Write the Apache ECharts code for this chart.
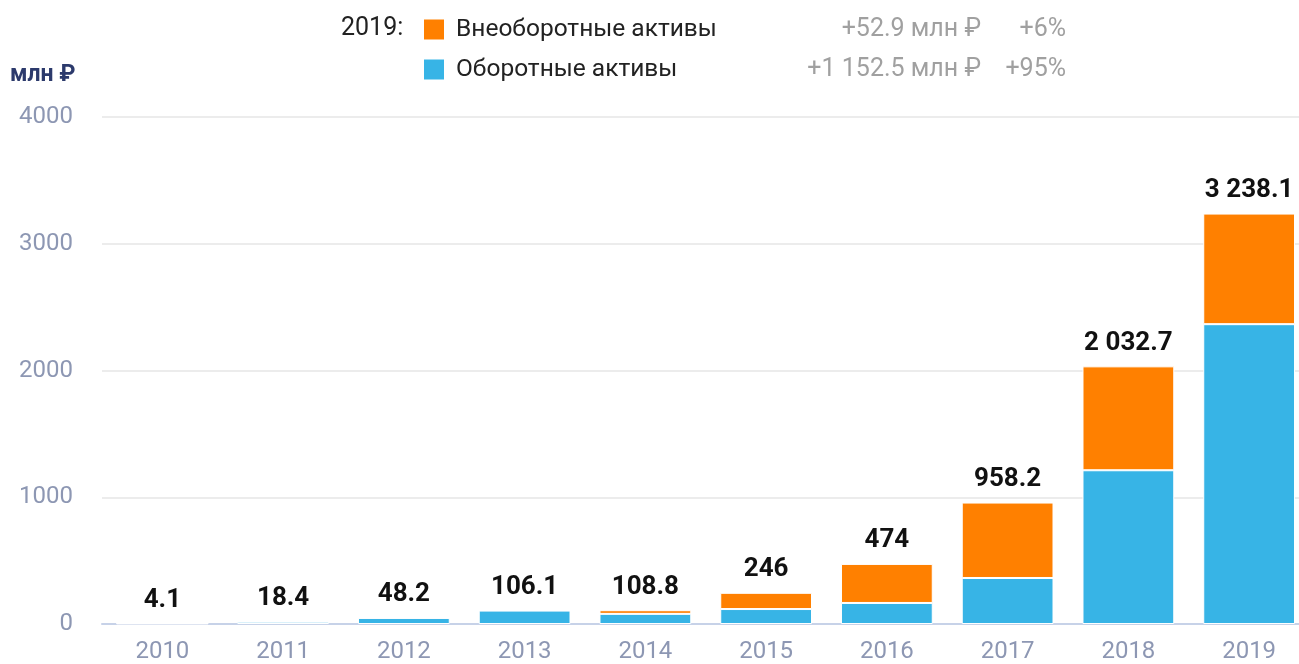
<!DOCTYPE html>
<html>
<head>
<meta charset="utf-8">
<script src="https://cdn.jsdelivr.net/npm/echarts@6/dist/echarts.min.js"></script>
<style>
html,body{margin:0;padding:0;background:#fff;}
#chart{width:1299px;height:664px;}
</style>
</head>
<body>
<div id="chart"></div>
<script>
const years = ['2010','2011','2012','2013','2014','2015','2016','2017','2018','2019'];
const currentAssets = [4.1, 18.4, 48.2, 106.1, 80, 118, 166, 363, 1213, 2365.5];
const nonCurrentAssets = [0, 0, 0, 0, 28.8, 128, 308, 595.2, 819.7, 872.6];
const totals = [4.1, 18.4, 48.2, 106.1, 108.8, 246, 474, 958.2, 2032.7, 3238.1];
const seriesNames = ['Внеоборотные активы', 'Оборотные активы'];
const legendDelta = ['+52.9 млн ₽', '+1 152.5 млн ₽'];
const legendPct = ['+6%', '+95%'];
const yTicks = [0, 1000, 2000, 3000, 4000];

const FONT = 'Roboto';
function fmt(v){
  const parts = String(v).split('.');
  parts[0] = parts[0].replace(/\B(?=(\d{3})+(?!\d))/g, ' ');
  return parts.join('.');
}
const chart = echarts.init(document.getElementById('chart'));
chart.setOption({
  animation: false,
  textStyle: {fontFamily: FONT},
  grid: {left: 102, width: 1207.5, top: 117, bottom: 40, containLabel: false, outerBoundsMode: 'none'},
  graphic: [
    {type:'text', left: 341, top: 16, style:{text:'2019:', fontSize:25, fontFamily:FONT, fill:'#222'}},
    {type:'text', left: 10, top: 64, style:{text:'млн ₽', fontSize:23, fontWeight:'bold', fontFamily:FONT, fill:'#2c3a6c'}}
  ],
  legend: {
    orient: 'vertical', left: 424, top: 17, padding: 0,
    itemWidth: 20, itemHeight: 20, itemGap: 15,
    icon: 'rect',
    data: seriesNames,
    selectedMode: false,
    itemStyle: {borderWidth: 0},
    formatter: function(name){
      const i = seriesNames.indexOf(name);
      return '{n|' + name + '}{v|' + legendDelta[i] + '}{p|' + legendPct[i] + '}';
    },
    textStyle: {
      fontFamily: FONT,
      rich: {
        n: {fontSize: 24.5, color: '#222', width: 350, padding:[0,0,0,7], fontFamily: FONT},
        v: {fontSize: 25, color: '#a0a0a0', width: 175, align: 'right', fontFamily: FONT},
        p: {fontSize: 25, color: '#a0a0a0', width: 85, align: 'right', fontFamily: FONT}
      }
    }
  },
  xAxis: {
    type: 'category', data: years,
    axisLine: {lineStyle: {color: '#c7d2e8', width: 2}},
    axisTick: {show: false},
    axisLabel: {color: '#8d97b3', fontSize: 24, margin: 16, fontFamily: FONT}
  },
  yAxis: {
    type: 'value', min: 0, max: 4000, interval: 1000,
    axisLine: {show: false}, axisTick: {show: false},
    splitLine: {lineStyle: {color: '#e6e6e6', width: 1.5}},
    axisLabel: {color: '#8d97b3', fontSize: 24, margin: 29, fontFamily: FONT,
      formatter: function(v){ return yTicks.indexOf(v) >= 0 ? String(v) : ''; }}
  },
  series: [
    {
      name: seriesNames[1], type: 'bar', stack: 'a', data: currentAssets,
      barCategoryGap: '24%',
      itemStyle: {color: '#37b4e6', borderColor: '#fff', borderWidth: 1}
    },
    {
      name: seriesNames[0], type: 'bar', stack: 'a', data: nonCurrentAssets,
      itemStyle: {color: '#ff8000', borderColor: '#fff', borderWidth: 1}
    },
    {
      name: 'total', type: 'bar', stack: 'a', data: totals.map(() => 0),
      itemStyle: {color: 'rgba(0,0,0,0)'},
      label: {
        show: true, position: 'top', distance: 10,
        fontSize: 26, fontWeight: 'bold', color: '#111', fontFamily: FONT,
        formatter: function(p){ return fmt(totals[p.dataIndex]); }
      }
    }
  ]
});
</script>
</body>
</html>
